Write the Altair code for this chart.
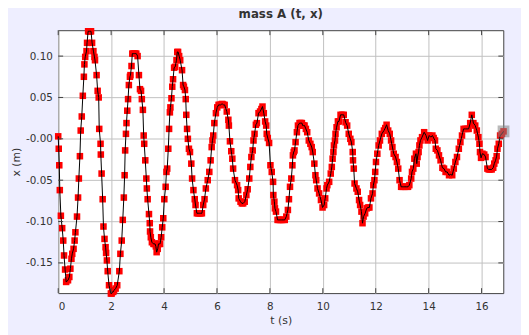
import altair as alt
import pandas as pd

# time (s) and position (m)
T = [0.00, 0.02, 0.04, 0.06, 0.10, 0.15, 0.19, 0.22, 0.26, 0.30,
     0.37, 0.42, 0.46, 0.50, 0.53, 0.58, 0.62, 0.65, 0.71, 0.75,
     0.78, 0.82, 0.85, 0.89, 0.93, 0.97, 0.99, 1.02, 1.07, 1.09,
     1.13, 1.16, 1.18, 1.21, 1.24, 1.28, 1.33, 1.37, 1.39, 1.45,
     1.49, 1.53, 1.55, 1.60, 1.61, 1.64, 1.68, 1.71, 1.75, 1.79,
     1.81, 1.84, 1.87, 1.92, 1.99, 2.02, 2.05, 2.08, 2.11, 2.17,
     2.23, 2.31, 2.35, 2.40, 2.44, 2.48, 2.51, 2.53, 2.56, 2.58,
     2.61, 2.64, 2.67, 2.71, 2.73, 2.77, 2.80, 2.84, 2.88, 2.91,
     2.95, 3.00, 3.05, 3.09, 3.13, 3.16, 3.20, 3.23, 3.25, 3.29,
     3.33, 3.35, 3.38, 3.43, 3.46, 3.47, 3.50, 3.54, 3.60, 3.63,
     3.66, 3.69, 3.72, 3.76, 3.79, 3.82, 3.85, 3.89, 3.93, 3.97,
     4.01, 4.06, 4.09, 4.12, 4.16, 4.19, 4.22, 4.24, 4.28, 4.31,
     4.34, 4.38, 4.42, 4.47, 4.50, 4.53, 4.57, 4.61, 4.68, 4.72,
     4.75, 4.79, 4.82, 4.84, 4.87, 4.90, 4.94, 4.98, 5.03, 5.06,
     5.11, 5.16, 5.19, 5.24, 5.29, 5.34, 5.38, 5.43, 5.48, 5.53,
     5.58, 5.65, 5.71, 5.76, 5.80, 5.83, 5.86, 5.90, 5.96, 6.01,
     6.06, 6.10, 6.14, 6.18, 6.21, 6.25, 6.29, 6.37, 6.43, 6.45,
     6.49, 6.54, 6.58, 6.61, 6.68, 6.76, 6.80, 6.82, 6.89, 6.94,
     6.99, 7.05, 7.11, 7.16, 7.22, 7.26, 7.30, 7.35, 7.38, 7.42,
     7.47, 7.51, 7.57, 7.63, 7.68, 7.72, 7.77, 7.82, 7.86, 7.88,
     7.92, 7.97, 8.02, 8.07, 8.12, 8.13, 8.17, 8.19, 8.23, 8.29,
     8.34, 8.39, 8.44, 8.50, 8.56, 8.62, 8.68, 8.72, 8.76, 8.81,
     8.85, 8.87, 8.90, 8.93, 8.97, 9.02, 9.06, 9.12, 9.15, 9.18,
     9.21, 9.24, 9.27, 9.31, 9.36, 9.41, 9.47, 9.53, 9.58, 9.62,
     9.68, 9.72, 9.75, 9.80, 9.86, 9.93, 9.99, 10.05, 10.09, 10.14,
     10.17, 10.24, 10.30, 10.34, 10.37, 10.40, 10.42, 10.46, 10.48, 10.52,
     10.57, 10.61, 10.67, 10.73, 10.79, 10.86, 10.92, 10.98, 11.04, 11.08,
     11.13, 11.14, 11.17, 11.20, 11.27, 11.32, 11.37, 11.41, 11.46, 11.50,
     11.54, 11.60, 11.66, 11.71, 11.76, 11.82, 11.88, 11.91, 11.95, 11.98,
     12.01, 12.06, 12.11, 12.16, 12.23, 12.31, 12.36, 12.41, 12.47, 12.53,
     12.58, 12.63, 12.68, 12.75, 12.80, 12.85, 12.90, 12.96, 13.00, 13.05,
     13.10, 13.17, 13.22, 13.27, 13.34, 13.37, 13.42, 13.46, 13.52, 13.55,
     13.58, 13.62, 13.65, 13.69, 13.75, 13.83, 13.90, 13.96, 14.02, 14.08,
     14.14, 14.19, 14.24, 14.27, 14.33, 14.39, 14.45, 14.52, 14.58, 14.64,
     14.70, 14.77, 14.83, 14.89, 14.95, 15.01, 15.07, 15.14, 15.20, 15.26,
     15.32, 15.39, 15.45, 15.51, 15.57, 15.63, 15.69, 15.76, 15.82, 15.88,
     15.92, 15.94, 15.98, 16.03, 16.10, 16.15, 16.22, 16.27, 16.32, 16.38,
     16.44, 16.48, 16.53, 16.57, 16.60, 16.65, 16.70, 16.77, 16.83]

X = [0.003, -0.012, -0.032, -0.062, -0.093, -0.108, -0.123, -0.141, -0.158, -0.173,
     -0.171, -0.167, -0.157, -0.145, -0.139, -0.133, -0.123, -0.113, -0.094, -0.071,
     -0.048, -0.021, 0.010, 0.027, 0.052, 0.075, 0.090, 0.099, 0.106, 0.116,
     0.130, 0.130, 0.130, 0.130, 0.130, 0.116, 0.106, 0.099, 0.095, 0.077,
     0.058, 0.050, 0.012, -0.006, -0.019, -0.042, -0.073, -0.106, -0.121, -0.131,
     -0.138, -0.147, -0.160, -0.177, -0.187, -0.187, -0.185, -0.185, -0.183, -0.181,
     -0.177, -0.160, -0.139, -0.123, -0.098, -0.071, -0.044, -0.014, 0.006, 0.019,
     0.034, 0.048, 0.065, 0.075, 0.077, 0.088, 0.103, 0.103, 0.103, 0.103,
     0.103, 0.100, 0.077, 0.060, 0.058, 0.048, 0.035, 0.004, -0.006, -0.026,
     -0.048, -0.060, -0.073, -0.091, -0.102, -0.112, -0.119, -0.125, -0.127, -0.127,
     -0.127, -0.130, -0.137, -0.133, -0.127, -0.127, -0.127, -0.119, -0.107, -0.096,
     -0.073, -0.058, -0.040, -0.036, -0.012, 0.012, 0.032, 0.038, 0.049, 0.063,
     0.072, 0.086, 0.087, 0.095, 0.105, 0.105, 0.100, 0.095, 0.083, 0.065,
     0.063, 0.059, 0.048, 0.029, 0.012, 0.000, -0.012, -0.016, -0.030, -0.048,
     -0.062, -0.073, -0.080, -0.090, -0.090, -0.090, -0.090, -0.090, -0.080, -0.073,
     -0.060, -0.050, -0.040, -0.026, -0.010, -0.002, 0.004, 0.019, 0.031, 0.038,
     0.041, 0.041, 0.041, 0.042, 0.042, 0.041, 0.041, 0.033, 0.023, 0.016,
     -0.003, -0.015, -0.024, -0.036, -0.050, -0.056, -0.062, -0.072, -0.076, -0.078,
     -0.078, -0.076, -0.068, -0.061, -0.048, -0.034, -0.022, -0.014, -0.002, 0.006,
     0.017, 0.019, 0.031, 0.033, 0.036, 0.039, 0.031, 0.021, 0.016, 0.006,
     0.001, -0.005, -0.032, -0.040, -0.052, -0.068, -0.076, -0.084, -0.088, -0.098,
     -0.098, -0.098, -0.098, -0.098, -0.098, -0.094, -0.086, -0.073, -0.058, -0.048,
     -0.032, -0.020, -0.016, -0.014, -0.004, 0.008, 0.016, 0.019, 0.019, 0.019,
     0.019, 0.016, 0.016, 0.016, 0.012, 0.008, -0.002, -0.006, -0.010, -0.016,
     -0.030, -0.044, -0.050, -0.060, -0.066, -0.074, -0.083, -0.080, -0.072, -0.060,
     -0.056, -0.052, -0.042, -0.034, -0.024, -0.016, -0.008, -0.002, 0.006, 0.014,
     0.021, 0.021, 0.029, 0.029, 0.029, 0.020, 0.016, 0.006, 0.000, -0.004,
     -0.016, -0.026, -0.036, -0.054, -0.060, -0.064, -0.074, -0.080, -0.088, -0.102,
     -0.094, -0.090, -0.084, -0.083, -0.083, -0.072, -0.066, -0.056, -0.050, -0.040,
     -0.028, -0.018, -0.008, -0.002, 0.006, 0.010, 0.013, 0.017, 0.010, 0.006,
     -0.002, -0.010, -0.018, -0.022, -0.028, -0.036, -0.050, -0.058, -0.058, -0.058,
     -0.058, -0.058, -0.058, -0.056, -0.048, -0.040, -0.036, -0.024, -0.018, -0.030,
     -0.022, -0.016, -0.008, -0.002, 0.002, 0.008, 0.004, -0.002, 0.004, 0.002,
     0.004, 0.001, -0.002, -0.012, -0.014, -0.020, -0.026, -0.035, -0.036, -0.040,
     -0.040, -0.044, -0.043, -0.044, -0.036, -0.028, -0.022, -0.012, -0.004, 0.004,
     0.012, 0.012, 0.012, 0.012, 0.019, 0.029, 0.019, 0.016, 0.010, 0.002,
     -0.006, -0.016, -0.023, -0.018, -0.019, -0.022, -0.036, -0.037, -0.037, -0.037,
     -0.035, -0.030, -0.026, -0.021, -0.012, -0.006, 0.004, 0.006, 0.009]

X_TICKS = [0, 2, 4, 6, 8, 10, 12, 14, 16]
Y_TICKS = [-0.15, -0.10, -0.05, 0.0, 0.05, 0.10]
X_DOMAIN = [0, 16.82]
Y_DOMAIN = [-0.1865, 0.1313]

TITLE = "mass A (t, x)"
X_TITLE = "t (s)"
Y_TITLE = "x (m)"

W, H = 452, 267
FONT = "DejaVu Sans"
TEXT = "#333333"
FRAME = "#404040"

df = pd.DataFrame({"t": T, "x": X})
last_df = df.tail(1)
xt_df = pd.DataFrame({"t": X_TICKS})
yt_df = pd.DataFrame({"x": Y_TICKS})

xs = alt.Scale(domain=X_DOMAIN, nice=False, zero=False)
ys = alt.Scale(domain=Y_DOMAIN, nice=False, zero=False)

ylabel = ("datum.value == 0 ? '-0.00' : "
          "(datum.value < 0 ? '-' : '') + format(abs(datum.value), '.2f')")

points = alt.Chart(df).mark_square(size=44, color="#FF0000", opacity=1).encode(
    x=alt.X("t:Q", scale=xs,
            axis=alt.Axis(title=X_TITLE, values=X_TICKS, format="d",
                          labelPadding=9, titleY=22, titleBaseline="top")),
    y=alt.Y("x:Q", scale=ys,
            axis=alt.Axis(title=Y_TITLE, values=Y_TICKS, labelExpr=ylabel,
                          labelPadding=6, titleX=-42, titleY=H / 2,
                          titleBaseline="middle", titleAngle=-90)),
)

line = alt.Chart(df).mark_line(color="black", strokeWidth=1).encode(
    x=alt.X("t:Q", scale=xs), y=alt.Y("x:Q", scale=ys))

last = alt.Chart(last_df).mark_square(size=144, color="#808080", opacity=0.55).encode(
    x=alt.X("t:Q", scale=xs), y=alt.Y("x:Q", scale=ys))

tick_bottom = alt.Chart(xt_df).mark_rule(color=FRAME, strokeWidth=1).encode(
    x=alt.X("t:Q", scale=xs), y=alt.value(H), y2=alt.value(H - 5))
tick_top = alt.Chart(xt_df).mark_rule(color=FRAME, strokeWidth=1).encode(
    x=alt.X("t:Q", scale=xs), y=alt.value(0), y2=alt.value(5))
tick_left = alt.Chart(yt_df).mark_rule(color=FRAME, strokeWidth=1).encode(
    y=alt.Y("x:Q", scale=ys), x=alt.value(0), x2=alt.value(5))
tick_right = alt.Chart(yt_df).mark_rule(color=FRAME, strokeWidth=1).encode(
    y=alt.Y("x:Q", scale=ys), x=alt.value(W), x2=alt.value(W - 5))

chart = alt.layer(
    points, line, last, tick_bottom, tick_top, tick_left, tick_right
).properties(
    width=W, height=H,
    title=alt.TitleParams(TITLE, font=FONT, fontSize=12, fontWeight="bold",
                          color=TEXT, offset=7, anchor="middle"),
    padding={"left": 51, "top": 20, "right": 18, "bottom": 40},
    autosize=alt.AutoSizeParams(type="none"),
).configure(
    background="#EEEEFF",
).configure_view(
    fill="white", stroke=FRAME, strokeWidth=1,
).configure_axis(
    grid=True, gridColor="#C0C0C0", gridWidth=1, domain=False, ticks=False,
    labelFont=FONT, labelFontSize=10.5, labelColor=TEXT,
    titleFont=FONT, titleFontSize=11, titleFontWeight="normal", titleColor=TEXT,
)

chart.save("out.html", embed_options={"renderer": "svg", "actions": False})
